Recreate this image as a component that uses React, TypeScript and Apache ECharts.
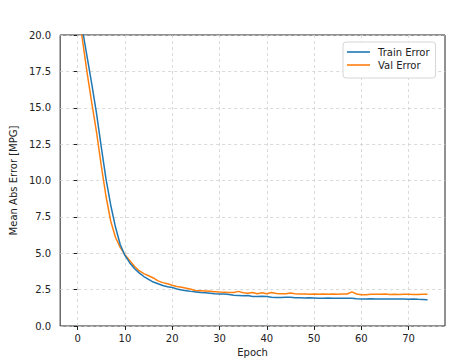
import React, { useEffect, useRef } from "react";
import * as echarts from "echarts";

const trainError: number[] = [
  22.6, 20.4, 18.5, 16.6, 14.6, 12.3, 10.1, 8.3, 6.8, 5.6,
  4.85, 4.35, 3.95, 3.65, 3.4, 3.2, 3.02, 2.9, 2.78, 2.7,
  2.64, 2.55, 2.48, 2.43, 2.38, 2.34, 2.3, 2.28, 2.25, 2.22,
  2.2, 2.2, 2.16, 2.12, 2.1, 2.08, 2.1, 2.03, 2.03, 2.05,
  2.02, 1.97, 1.96, 1.96, 1.98, 1.97, 1.95, 1.94, 1.93, 1.94,
  1.92, 1.9, 1.91, 1.92, 1.9, 1.9, 1.9, 1.9, 1.91, 1.88,
  1.86, 1.86, 1.87, 1.86, 1.86, 1.86, 1.85, 1.86, 1.85, 1.85,
  1.84, 1.85, 1.83, 1.82, 1.81,
];

const valError: number[] = [
  22.1, 19.7, 17.4, 15.3, 13.3, 11.0, 8.9, 7.2, 6.1, 5.4,
  4.9, 4.5, 4.1, 3.8, 3.6, 3.45, 3.3, 3.1, 2.98, 2.9,
  2.8, 2.72, 2.66, 2.6, 2.52, 2.42, 2.42, 2.4, 2.38, 2.36,
  2.33, 2.32, 2.3, 2.3, 2.38, 2.28, 2.25, 2.3, 2.22, 2.28,
  2.22, 2.3, 2.23, 2.22, 2.22, 2.27, 2.22, 2.2, 2.2, 2.19,
  2.2, 2.19, 2.2, 2.19, 2.2, 2.19, 2.2, 2.2, 2.35, 2.2,
  2.15, 2.15, 2.18, 2.18, 2.19, 2.2, 2.17, 2.19, 2.16, 2.18,
  2.18, 2.17, 2.17, 2.18, 2.18,
];

const epochs: number[] = trainError.map((_, i) => i);
const xTicks: number[] = [0, 10, 20, 30, 40, 50, 60, 70];

const FONT = "'DejaVu Sans', Verdana, sans-serif";
const TEXT = "#222";
const GRID = "#d0d0d0";

export default function App() {
  const ref = useRef<HTMLDivElement>(null);
  useEffect(() => {
    if (!ref.current) return;
    const chart = echarts.init(ref.current, undefined, { renderer: "svg" });
    chart.setOption({
      animation: false,
      backgroundColor: "#fff",
      textStyle: { fontFamily: FONT },
      grid: {
        left: 55,
        right: 28,
        top: 35,
        bottom: 38,
        show: true,
        borderColor: "#222",
        borderWidth: 1,
        backgroundColor: "transparent",
      },
      legend: {
        left: 343,
        top: 42,
        orient: "vertical",
        icon: "rect",
        itemWidth: 23,
        itemHeight: 1.6,
        itemGap: 1,
        padding: [4, 6, 7, 4],
        borderColor: "#d6d6d6",
        borderWidth: 1,
        borderRadius: 3,
        backgroundColor: "#fff",
        textStyle: {
          fontFamily: FONT,
          fontSize: 10,
          lineHeight: 12,
          color: TEXT,
          padding: [0, 0, 0, 3],
        },
        data: ["Train Error", "Val Error"],
      },
      xAxis: {
        type: "value",
        min: -3.7,
        max: 77.7,
        name: "Epoch",
        nameLocation: "middle",
        nameGap: 21,
        nameTextStyle: { fontFamily: FONT, fontSize: 10, color: TEXT },
        axisLine: { show: false },
        axisTick: {
          show: true,
          inside: false,
          length: 4,
          customValues: xTicks,
          lineStyle: { color: "#222", width: 1 },
        },
        axisLabel: {
          customValues: xTicks,
          fontFamily: FONT,
          fontSize: 10,
          color: TEXT,
          margin: 7,
          formatter: (v: number) => String(v),
        },
        splitLine: { show: false },
      },
      yAxis: {
        type: "value",
        min: 0,
        max: 20,
        interval: 2.5,
        name: "Mean Abs Error [MPG]",
        nameLocation: "middle",
        nameGap: 37,
        nameTextStyle: { fontFamily: FONT, fontSize: 10, color: TEXT },
        axisLine: { show: false },
        axisTick: { show: true, inside: false, length: 4, lineStyle: { color: "#222", width: 1 } },
        axisLabel: {
          fontFamily: FONT,
          fontSize: 10,
          color: TEXT,
          margin: 9,
          formatter: (v: number) => v.toFixed(1),
        },
        splitLine: { show: true, lineStyle: { color: GRID, type: [3, 3], width: 0.8 } },
      },
      series: [
        {
          name: "Train Error",
          type: "line",
          data: epochs.map((e, i) => [e, trainError[i]]),
          symbol: "none",
          clip: true,
          z: 3,
          lineStyle: { color: "#1f77b4", width: 1.5 },
          itemStyle: { color: "#1f77b4" },
          markLine: {
            silent: true,
            symbol: ["none", "none"],
            label: { show: false },
            z: 1,
            lineStyle: { color: GRID, type: [3, 3], width: 0.8 },
            data: xTicks.map((t) => ({ xAxis: t })),
          },
        },
        {
          name: "Val Error",
          type: "line",
          data: epochs.map((e, i) => [e, valError[i]]),
          symbol: "none",
          clip: true,
          z: 2,
          lineStyle: { color: "#ff7f0e", width: 1.5 },
          itemStyle: { color: "#ff7f0e" },
        },
      ],
    });
    return () => chart.dispose();
  }, []);
  return (
    <div
      ref={ref}
      style={{ position: "absolute", left: 0, top: 0, width: 473, height: 364 }}
    />
  );
}
